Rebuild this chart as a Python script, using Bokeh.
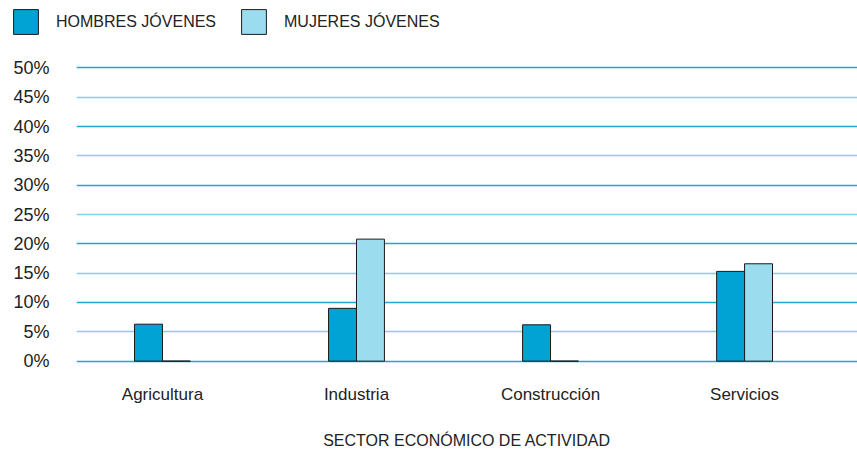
from bokeh.plotting import figure
from bokeh.layouts import column
from bokeh.models import Range1d, FixedTicker, Grid, Legend, LegendItem, ColumnDataSource
from bokeh.embed import file_html
from bokeh.resources import INLINE

categories = ["Agricultura", "Industria", "Construcción", "Servicios"]
hombres = [6.3, 9.0, 6.2, 15.3]
mujeres = [0.0, 20.8, 0.0, 16.6]
y_ticks = [0, 5, 10, 15, 20, 25, 30, 35, 40, 45, 50]
y_tick_labels = ["0%", "5%", "10%", "15%", "20%", "25%", "30%", "35%", "40%", "45%", "50%"]
series_names = ["HOMBRES JÓVENES", "MUJERES JÓVENES"]
x_title = "SECTOR ECONÓMICO DE ACTIVIDAD"

FONT = "Liberation Sans"
TXT = "#222222"
C_H = "#00a3d4"
C_M = "#9cdcef"
EDGE = "#1a1a1a"
bw = 0.144
W = 857
LEG_H = 48
MAIN_H = 451 - LEG_H

pos = list(range(len(categories)))
src = ColumnDataSource(dict(
    xh=[i - bw / 2 for i in pos], xm=[i + bw / 2 for i in pos],
    h=hombres, m=mujeres))

# ---------- legend strip ----------
lg = figure(width=W, height=LEG_H, output_backend="svg", toolbar_location=None,
            x_range=Range1d(0, W), y_range=Range1d(0, LEG_H),
            min_border=0, min_border_left=0, min_border_right=0,
            min_border_top=0, min_border_bottom=0)
lg.frame_align = False
lg.axis.visible = False
lg.grid.visible = False
lg.outline_line_color = None
# swatch renderers only feed the legend; their single point lies far outside the view
swatch = ColumnDataSource(dict(x=[-5000], top=[-4000], bottom=[-4001]))
dh = lg.vbar(x="x", top="top", bottom="bottom", width=1, source=swatch,
             fill_color=C_H, line_color=EDGE)
dm = lg.vbar(x="x", top="top", bottom="bottom", width=1, source=swatch,
             fill_color=C_M, line_color=EDGE)
legend = Legend(items=[LegendItem(label=series_names[0], renderers=[dh]),
                       LegendItem(label=series_names[1], renderers=[dm])],
                orientation="horizontal", location=(10, 11),
                glyph_width=31, glyph_height=31, label_standoff=15, spacing=22,
                padding=0, margin=0, border_line_color=None, background_fill_alpha=0,
                label_text_font=FONT, label_text_font_size="16px", label_text_color=TXT,
                label_height=31)
lg.add_layout(legend, "center")

# ---------- main chart ----------
p = figure(width=W, height=MAIN_H, output_backend="svg", toolbar_location=None,
           x_range=Range1d(-0.443, 3.582), y_range=Range1d(-0.4, 50.4),
           min_border_left=76, min_border_right=0, min_border_top=17, min_border_bottom=86)
p.frame_align = False
p.outline_line_color = None

p.xgrid.visible = False
p.ygrid.ticker = FixedTicker(ticks=[t for t in y_ticks if t % 10 == 0])
p.ygrid.grid_line_color = "#22a5d6"
p.ygrid.grid_line_width = 1.4
g2 = Grid(dimension=1, ticker=FixedTicker(ticks=[t for t in y_ticks if t % 10 == 5]),
          grid_line_color="#84cfe9", grid_line_width=1.6)
p.add_layout(g2)

p.vbar(x="xh", top="h", bottom=0, width=bw, source=src, fill_color=C_H,
       line_color=EDGE, line_width=1)
p.vbar(x="xm", top="m", bottom=0, width=bw, source=src, fill_color=C_M,
       line_color=EDGE, line_width=1)

p.yaxis.ticker = FixedTicker(ticks=y_ticks)
p.yaxis.major_label_overrides = {t: l for t, l in zip(y_ticks, y_tick_labels)}
p.yaxis.axis_line_color = None
p.yaxis.major_tick_line_color = None
p.yaxis.minor_tick_line_color = None
p.yaxis.major_tick_out = 0
p.yaxis.major_tick_in = 0
p.yaxis.major_label_standoff = 27
p.yaxis.major_label_text_font = FONT
p.yaxis.major_label_text_font_size = "18px"
p.yaxis.major_label_text_color = TXT

p.xaxis.ticker = FixedTicker(ticks=pos)
p.xaxis.major_label_overrides = {i: c for i, c in zip(pos, categories)}
p.xaxis.axis_line_color = None
p.xaxis.major_tick_line_color = None
p.xaxis.minor_tick_line_color = None
p.xaxis.major_tick_out = 0
p.xaxis.major_tick_in = 0
p.xaxis.major_label_standoff = 21
p.xaxis.major_label_text_font = FONT
p.xaxis.major_label_text_font_size = "17px"
p.xaxis.major_label_text_color = TXT
p.xaxis.axis_label = x_title
p.xaxis.axis_label_standoff = 25
p.xaxis.axis_label_text_font = FONT
p.xaxis.axis_label_text_font_size = "16px"
p.xaxis.axis_label_text_font_style = "normal"
p.xaxis.axis_label_text_color = TXT

layout = column(lg, p, spacing=0)
open("out.html", "w").write(file_html(layout, INLINE))
